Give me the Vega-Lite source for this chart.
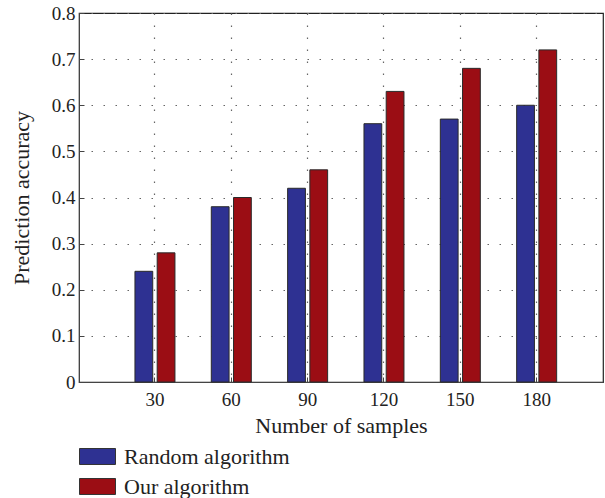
{
  "$schema": "https://vega.github.io/schema/vega-lite/v6.json",
  "width": 524,
  "height": 369,
  "autosize": "none",
  "padding": {"left": 79, "top": 13, "right": 2, "bottom": 116},
  "background": "white",
  "config": {
    "font": "Liberation Serif",
    "view": {"stroke": "#222", "strokeWidth": 1.2},
    "axis": {
      "labelFont": "Liberation Serif",
      "titleFont": "Liberation Serif",
      "labelFontSize": 19,
      "titleFontSize": 22,
      "titleFontWeight": "normal",
      "labelColor": "#222",
      "titleColor": "#222",
      "domainColor": "#444",
      "tickColor": "#444",
      "gridColor": "#666",
      "gridDash": [1.5, 10.5],
      "gridWidth": 1.2
    }
  },
  "data": {
    "values": [
      {"samples": 30, "algorithm": "Random algorithm", "accuracy": 0.24},
      {"samples": 30, "algorithm": "Our algorithm", "accuracy": 0.28},
      {"samples": 60, "algorithm": "Random algorithm", "accuracy": 0.38},
      {"samples": 60, "algorithm": "Our algorithm", "accuracy": 0.40},
      {"samples": 90, "algorithm": "Random algorithm", "accuracy": 0.42},
      {"samples": 90, "algorithm": "Our algorithm", "accuracy": 0.46},
      {"samples": 120, "algorithm": "Random algorithm", "accuracy": 0.56},
      {"samples": 120, "algorithm": "Our algorithm", "accuracy": 0.63},
      {"samples": 150, "algorithm": "Random algorithm", "accuracy": 0.57},
      {"samples": 150, "algorithm": "Our algorithm", "accuracy": 0.68},
      {"samples": 180, "algorithm": "Random algorithm", "accuracy": 0.60},
      {"samples": 180, "algorithm": "Our algorithm", "accuracy": 0.72}
    ]
  },
  "mark": {"type": "bar", "stroke": "#2a2a2a", "strokeWidth": 1},
  "encoding": {
    "x": {
      "field": "samples",
      "type": "ordinal",
      "sort": [30, 60, 90, 120, 150, 180],
      "scale": {"paddingInner": 0.476, "paddingOuter": 0.67, "align": 0.547},
      "axis": {
        "title": "Number of samples",
        "labelAngle": 0,
        "bandPosition": 0.5,
        "grid": true,
        "tickSize": -5,
        "labelPadding": 13,
        "titlePadding": 6
      }
    },
    "xOffset": {
      "field": "algorithm",
      "type": "nominal",
      "sort": ["Random algorithm", "Our algorithm"],
      "scale": {"paddingInner": 0.2, "paddingOuter": 0}
    },
    "y": {
      "field": "accuracy",
      "type": "quantitative",
      "scale": {"domain": [0, 0.8], "nice": false},
      "axis": {
        "title": "Prediction accuracy",
        "values": [0, 0.1, 0.2, 0.3, 0.4, 0.5, 0.6, 0.7, 0.8],
        "format": ".1~f",
        "grid": true,
        "tickSize": -5,
        "labelPadding": 9,
        "titlePadding": 18
      }
    },
    "fill": {
      "field": "algorithm",
      "type": "nominal",
      "sort": ["Random algorithm", "Our algorithm"],
      "scale": {"domain": ["Random algorithm", "Our algorithm"], "range": ["#2E3192", "#9B0D14"]},
      "legend": {
        "title": null,
        "orient": "none",
        "legendX": 0,
        "legendY": 425,
        "direction": "vertical",
        "symbolType": "M-1,-0.444H1V0.444H-1Z",
        "symbolSize": 1296,
        "symbolStrokeColor": "#333",
        "symbolStrokeWidth": 1,
        "symbolOpacity": 1,
        "labelFont": "Liberation Serif",
        "labelFontSize": 22,
        "labelColor": "#222",
        "labelOffset": 8,
        "labelLimit": 400,
        "rowPadding": -11
      }
    }
  }
}
